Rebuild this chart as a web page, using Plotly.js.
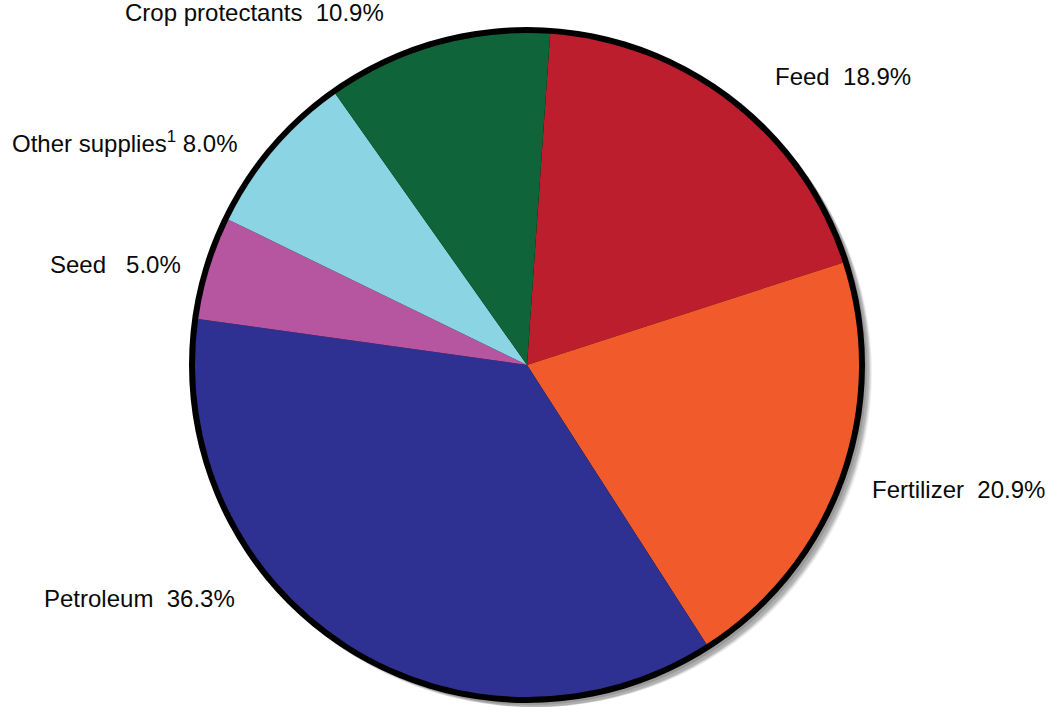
<!DOCTYPE html>
<html>
<head>
<meta charset="utf-8">
<script src="https://cdn.plot.ly/plotly-3.0.1.min.js"></script>
<style>html,body{margin:0;padding:0;background:#fff;}#chart{width:1054px;height:707px;}</style>
</head>
<body>
<div id="chart"></div>
<script>
// Data
var categories = ["Feed", "Fertilizer", "Petroleum", "Seed", "Other supplies", "Crop protectants"];
var shares = [18.9, 20.9, 36.3, 5.0, 8.0, 10.9];
var labelTexts = ["Feed\u00A0\u00A018.9%", "Fertilizer\u00A0\u00A020.9%", "Petroleum\u00A0\u00A036.3%", "Seed\u00A0\u00A0\u00A05.0%", "Other supplies<sup>1</sup>\u00A08.0%", "Crop protectants\u00A0\u00A010.9%"];
var sliceColors = ["#BC1E2E", "#F15A2A", "#2E3192", "#B655A0", "#8AD4E3", "#0F6439"];

// Layout helpers (pixels)
var W = 1054, H = 707;
var cx = 527, cy = 365, rIn = 332, rOut = 338;
function dom(x, y, r) {
  return {x: [(x - r) / W, (x + r) / W], y: [(H - y - r) / H, (H - y + r) / H]};
}
var rot = 4;

var traces = [];
// soft shadow layers
var shadowSteps = [[3,3,0.12],[5,5,0.11],[7,7,0.10],[9,9,0.08],[11,11,0.06]];
shadowSteps.forEach(function(s){
  traces.push({type: "pie", values: [1], labels: ["shadow"], sort: false,
    marker: {colors: ["rgba(0,0,0," + s[2] + ")"], line: {width: 0}},
    textinfo: "none", hoverinfo: "skip", showlegend: false,
    domain: dom(cx + s[0], cy + s[1], rOut - 1)});
});
// outline
traces.push({type: "pie", values: [1], labels: ["outline"], sort: false,
  marker: {colors: ["#000000"], line: {width: 0}},
  textinfo: "none", hoverinfo: "skip", showlegend: false,
  domain: dom(cx, cy, rOut)});
// main pie
traces.push({type: "pie", values: shares, labels: categories, sort: false,
  direction: "clockwise", rotation: rot,
  marker: {colors: sliceColors, line: {width: 0}},
  textinfo: "none", hoverinfo: "label+percent", showlegend: false,
  domain: dom(cx, cy, rIn)});

// label placement (pixels: left x, vertical center)
var labelPos = [[773, 77], [870, 489], [42, 598], [48, 264], [10, 142], [123, 13]];
var annotations = labelTexts.map(function(t, i){
  return {text: t, xref: "paper", yref: "paper",
    x: labelPos[i][0] / W, y: 1 - labelPos[i][1] / H,
    xanchor: "left", yanchor: "middle", showarrow: false,
    font: {family: "Liberation Sans, Arial, sans-serif", size: 24, color: "#0a0a0a"}};
});

var layout = {width: W, height: H, margin: {l: 0, r: 0, t: 0, b: 0},
  paper_bgcolor: "#ffffff", showlegend: false, annotations: annotations};

Plotly.newPlot("chart", traces, layout, {displayModeBar: false, staticPlot: true});
</script>
</body>
</html>
